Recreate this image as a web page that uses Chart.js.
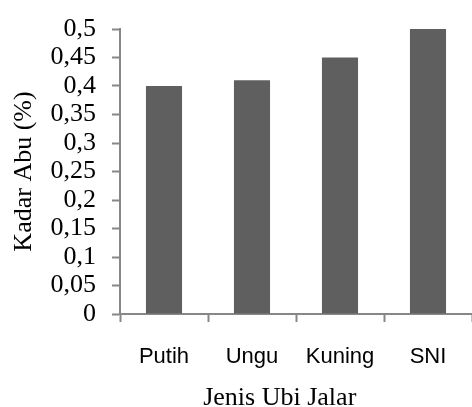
<!DOCTYPE html>
<html>
<head>
<meta charset="utf-8">
<script src="https://cdn.jsdelivr.net/npm/chart.js@4/dist/chart.umd.min.js"></script>
<style>
  html, body { margin: 0; padding: 0; background: #ffffff; }
  #wrap { width: 472px; height: 407px; }
</style>
</head>
<body>
<div id="wrap"><canvas id="barChart"></canvas></div>
<script>
const categories = ["Putih", "Ungu", "Kuning", "SNI"];
const kadarAbu = [0.40, 0.41, 0.45, 0.50];
const yTickLabels = ["0", "0,05", "0,1", "0,15", "0,2", "0,25", "0,3", "0,35", "0,4", "0,45", "0,5"];

const axisColor = "#878787";
const serif = "'Liberation Serif', 'Times New Roman', serif";

new Chart(document.getElementById("barChart").getContext("2d"), {
  type: "bar",
  data: {
    labels: categories,
    datasets: [
      {
        label: "Kadar Abu",
        data: kadarAbu,
        backgroundColor: "#5f5f5f",
        categoryPercentage: 1,
        barPercentage: 0.41,
      },
    ],
  },
  options: {
    responsive: true,
    maintainAspectRatio: false,
    animation: false,
    layout: { padding: { top: 22, right: 0, left: 0, bottom: 0 } },
    plugins: {
      legend: { display: false },
      tooltip: { enabled: false },
    },
    scales: {
      x: {
        grid: {
          display: true,
          drawOnChartArea: false,
          offset: true,
          tickLength: 8,
          tickColor: axisColor,
          tickWidth: 2,
        },
        border: { display: true, color: axisColor, width: 2 },
        ticks: {
          color: "#000000",
          padding: 24,
          maxRotation: 0,
          font: { family: "'Liberation Sans', sans-serif", size: 22, lineHeight: 1 },
        },
        title: {
          display: true,
          // trailing spaces nudge the centred title left, like the original
          text: "Jenis Ubi Jalar     ",
          color: "#000000",
          font: { family: serif, size: 26, lineHeight: 0.7 },
          padding: { top: 0, bottom: 0 },
        },
        afterFit: function (scale) {
          scale.height = 93;
        },
      },
      y: {
        min: 0,
        max: 0.5,
        ticks: {
          stepSize: 0.05,
          autoSkip: false,
          color: "#000000",
          padding: 16,
          font: { family: serif, size: 26, lineHeight: 1 },
          callback: function (value, index) {
            return yTickLabels[index];
          },
        },
        grid: {
          display: true,
          drawOnChartArea: false,
          tickLength: 8,
          tickColor: axisColor,
          tickWidth: 2,
        },
        border: { display: true, color: axisColor, width: 2 },
        title: {
          display: true,
          text: "Kadar Abu (%)",
          color: "#000000",
          font: { family: serif, size: 26, lineHeight: 1 },
          padding: { top: 11, bottom: 0 },
        },
        afterFit: function (scale) {
          scale.width = 120;
        },
      },
    },
  },
});
</script>
</body>
</html>
